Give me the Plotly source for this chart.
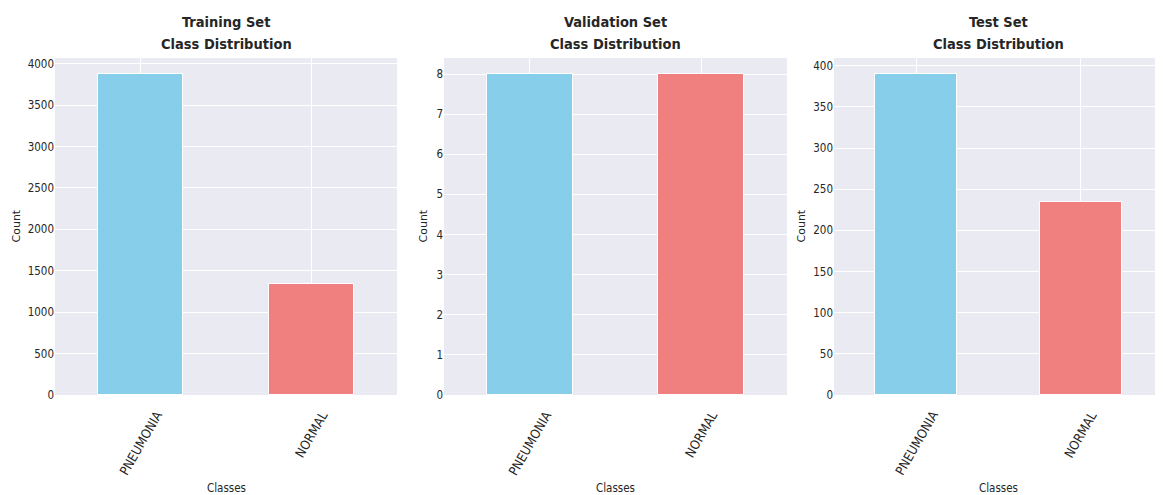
import plotly.graph_objects as go

classes = ["PNEUMONIA", "NORMAL"]
train_counts = [3875, 1341]
val_counts = [8, 8]
test_counts = [390, 234]
title_line1 = ["Training Set", "Validation Set", "Test Set"]
title_line2 = "Class Distribution"
colors = ["#87CEEB", "#F08080"]

# page is rendered with an 8px body margin; work in page pixels and convert
OFF = 8
PW, PH = 1163, 495
W, H = PW - OFF, PH - OFF


def px(x):
    return (x - OFF) / W


def py(y):
    return (H - (y - OFF)) / H


x_doms = [(px(55), px(397)), (px(444), px(787)), (px(834), 1.0)]
y_dom = (py(395), py(58))
ylabel_x = [16, 423, 801]

datasets = [train_counts, val_counts, test_counts]
dticks = [500, 1, 50]

COND = "DejaVu Sans Condensed, DejaVu Sans, sans-serif"
TXT = "#262626"

fig = go.Figure()
for i, (vals, dom) in enumerate(zip(datasets, x_doms)):
    sfx = "" if i == 0 else str(i + 1)
    xa = "x" + sfx
    fig.add_trace(go.Bar(
        x=classes, y=vals, width=0.5,
        marker=dict(color=colors, line=dict(color="white", width=1)),
        xaxis=xa, yaxis="y" + sfx, showlegend=False,
    ))
    ymax = max(vals) * 1.05
    fig.layout["xaxis" + sfx] = dict(
        domain=list(dom), anchor="y" + sfx, range=[-0.5, 1.5],
        showticklabels=False, automargin=False,
        showgrid=True, gridcolor="white", gridwidth=1,
        zeroline=False, showline=False, ticks="",
    )
    fig.layout["yaxis" + sfx] = dict(
        domain=list(y_dom), anchor="x" + sfx, range=[0, ymax], dtick=dticks[i],
        automargin=False,
        showgrid=True, gridcolor="white", gridwidth=1, zeroline=False,
        showline=False, ticks="",
        tickfont=dict(size=11.5, color=TXT, family=COND),
    )
    # rotated category labels
    for c in classes:
        fig.add_annotation(
            text=c, x=c, xref=xa, y=py(406), yref="paper",
            xanchor="center", yanchor="top", textangle=-60, showarrow=False,
            font=dict(size=13, color=TXT, family=COND),
        )
    # titles (two lines)
    cx = (dom[0] + dom[1]) / 2
    for txt, yy in ((title_line1[i], 22), (title_line2, 44)):
        fig.add_annotation(
            text="<b>" + txt + "</b>", xref="paper", yref="paper",
            x=cx, y=py(yy), yanchor="middle", xanchor="center",
            showarrow=False, font=dict(size=14.5, color=TXT, family=COND),
        )
    # x axis title
    fig.add_annotation(
        text="Classes", xref="paper", yref="paper",
        x=cx, y=py(488), yanchor="middle", xanchor="center",
        showarrow=False, font=dict(size=11.5, color=TXT, family=COND),
    )
    # y axis title
    fig.add_annotation(
        text="Count", xref="paper", yref="paper",
        x=px(ylabel_x[i]), y=(y_dom[0] + y_dom[1]) / 2, yanchor="middle", xanchor="center",
        textangle=-90, showarrow=False,
        font=dict(size=11, color=TXT, family="DejaVu Sans"),
    )

fig.update_layout(
    width=W, height=H,
    margin=dict(l=0, r=0, t=0, b=0),
    paper_bgcolor="white", plot_bgcolor="#EAEAF2",
    bargap=0,
)
fig.write_html("out.html")
